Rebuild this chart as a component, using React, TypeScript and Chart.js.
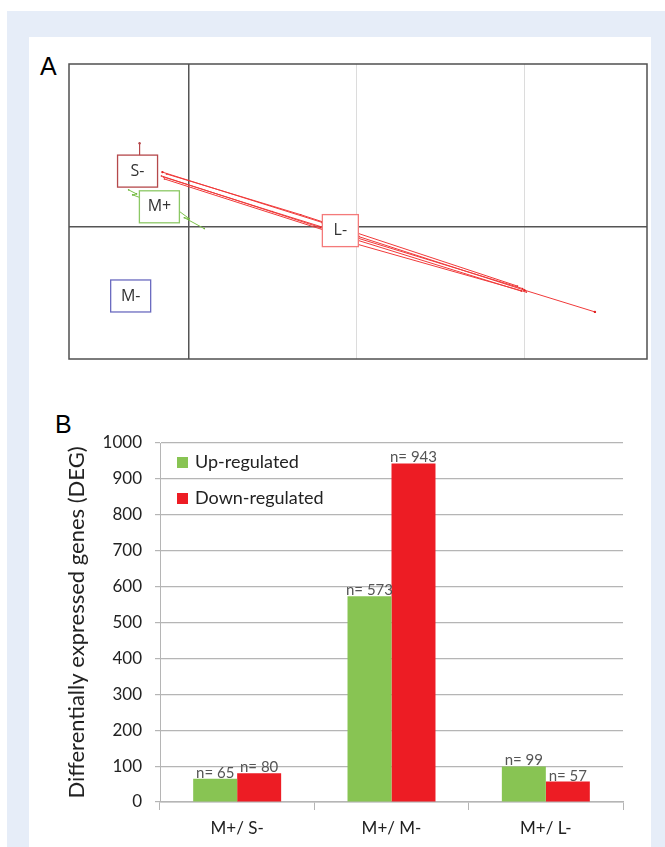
import React, { useEffect, useRef } from "react";
import { Chart, registerables } from "chart.js";

Chart.register(...registerables);

// ---------- Panel A data (ordination plot) ----------
const xGridValues = [0, 1, 2];
const yGridValues = [0];

const lTrace1: [number, number][] = [[-0.154, 0.325], [0.799, 0.024], [1.012, -0.059], [2.0, -0.379], [2.42, -0.509]];
const lTrace2: [number, number][] = [[-0.16, 0.302], [0.787, -0.006], [1.012, -0.083], [1.982, -0.385]];
const lTrace3: [number, number][] = [[-0.142, 0.284], [0.817, -0.024], [1.012, -0.107], [2.012, -0.391]];
const lTrace4: [number, number][] = [[-0.13, 0.314], [0.669, 0.071], [1.012, -0.041], [1.959, -0.355]];
const lTrace5: [number, number][] = [[-0.148, 0.296], [0.5, 0.09], [1.012, -0.07], [1.99, -0.37]];
const sTrace: [number, number][] = [[-0.29, 0.497], [-0.29, 0.414]];
const mPlusTraceLeft: [number, number][] = [[-0.355, 0.219], [-0.308, 0.195], [-0.331, 0.189], [-0.284, 0.172]];
const mPlusTraceRight: [number, number][] = [[-0.059, 0.095], [0.006, 0.047], [-0.024, 0.053], [0.095, -0.012]];

const groupNames = ["S-", "M+", "M-", "L-"];
const groupX = [-0.302, -0.172, -0.343, 0.905];
const groupY = [0.331, 0.118, -0.414, -0.024];

// ---------- Panel B data (bar chart) ----------
const categories = ["M+/ S-", "M+/ M-", "M+/ L-"];
const upRegulated = [65, 573, 99];
const downRegulated = [80, 943, 57];
const seriesNames = ["Up-regulated", "Down-regulated"];

const GREEN = "#88c453";
const RED = "#ed1c24";
const groupBorder: Record<string, string> = {
  "S-": "#b5484b",
  "M+": "#8cc865",
  "M-": "#6b6bc0",
  "L-": "#f47a7a",
};

const toPts = (arr: [number, number][]) => arr.map(([x, y]) => ({ x, y }));

export default function App() {
  const refA = useRef<HTMLCanvasElement | null>(null);
  const refB = useRef<HTMLCanvasElement | null>(null);

  useEffect(() => {
    Chart.defaults.font.family = "Lato";

    const redLine = (pts: [number, number][], r = 0.8) => ({
      data: toPts(pts),
      showLine: true,
      borderColor: "#f03a3a",
      borderWidth: 1,
      pointRadius: r,
      pointBackgroundColor: "#e02020",
      pointBorderWidth: 0,
    });
    const greenLine = (pts: [number, number][]) => ({
      data: toPts(pts),
      showLine: true,
      borderColor: "#7cc24a",
      borderWidth: 1,
      pointRadius: 0.8,
      pointBackgroundColor: "#6cb03a",
      pointBorderWidth: 0,
    });

    const boxesPlugin = {
      id: "boxes",
      afterDatasetsDraw(chart: any) {
        const { ctx, scales } = chart;
        ctx.save();
        groupNames.forEach((name, i) => {
          const cx = scales.x.getPixelForValue(groupX[i]);
          const cy = scales.y.getPixelForValue(groupY[i]);
          const w = name === "L-" ? 36 : 40;
          const h = 32;
          ctx.fillStyle = "#ffffff";
          ctx.fillRect(cx - w / 2, cy - h / 2, w, h);
          ctx.strokeStyle = groupBorder[name];
          ctx.lineWidth = 1.3;
          ctx.strokeRect(cx - w / 2, cy - h / 2, w, h);
          ctx.fillStyle = "#333333";
          ctx.font = "16px 'Open Sans'";
          ctx.textAlign = "center";
          ctx.textBaseline = "middle";
          ctx.fillText(name, cx, cy);
        });
        ctx.restore();
      },
      afterDraw(chart: any) {
        const { ctx, chartArea: a } = chart;
        ctx.save();
        ctx.strokeStyle = "#505050";
        ctx.lineWidth = 1.5;
        ctx.strokeRect(a.left, a.top, a.right - a.left, a.bottom - a.top);
        ctx.restore();
      },
    };

    const chartA = new Chart(refA.current as HTMLCanvasElement, {
      type: "scatter",
      data: {
        datasets: [
          redLine(lTrace1, 1.2),
          redLine(lTrace2),
          redLine(lTrace3),
          redLine(lTrace4),
          redLine(lTrace5),
          { ...redLine(sTrace, 1.2), borderColor: "#b5484b", pointBackgroundColor: "#b5484b" },
          greenLine(mPlusTraceLeft),
          greenLine(mPlusTraceRight),
        ] as any,
      },
      plugins: [boxesPlugin],
      options: {
        animation: false,
        responsive: false,
        devicePixelRatio: 1,
        layout: { padding: 2 },
        plugins: { legend: { display: false }, tooltip: { enabled: false } },
        scales: {
          x: {
            type: "linear",
            min: -0.71,
            max: 2.73,
            afterBuildTicks: (s: any) => {
              s.ticks = xGridValues.map((v) => ({ value: v }));
            },
            ticks: { display: false },
            border: { display: false },
            grid: {
              drawTicks: false,
              color: (c: any) => (c.tick && c.tick.value === 0 ? "#555555" : "#dcdcdc"),
              lineWidth: (c: any) => (c.tick && c.tick.value === 0 ? 1.5 : 1),
            },
          },
          y: {
            type: "linear",
            min: -0.79,
            max: 0.97,
            afterBuildTicks: (s: any) => {
              s.ticks = yGridValues.map((v) => ({ value: v }));
            },
            ticks: { display: false },
            border: { display: false },
            grid: {
              drawTicks: false,
              color: "#555555",
              lineWidth: 1.5,
            },
          },
        },
      } as any,
    });

    const labelsPlugin = {
      id: "nlabels",
      afterDatasetsDraw(chart: any) {
        const { ctx } = chart;
        ctx.save();
        ctx.font = "15px Lato";
        ctx.fillStyle = "#555555";
        ctx.textAlign = "center";
        ctx.textBaseline = "alphabetic";
        chart.data.datasets.forEach((ds: any, di: number) => {
          const meta = chart.getDatasetMeta(di);
          meta.data.forEach((bar: any, i: number) => {
            ctx.fillText(`n= ${ds.data[i]}`, bar.x, bar.y - 1);
          });
        });
        ctx.restore();
      },
      afterDraw(chart: any) {
        const { ctx, chartArea: a } = chart;
        ctx.save();
        ctx.font = "18px Lato";
        ctx.textBaseline = "middle";
        ctx.textAlign = "left";
        const colors = [GREEN, RED];
        seriesNames.forEach((name, i) => {
          const y = a.top + 19 + i * 36;
          ctx.fillStyle = colors[i];
          ctx.fillRect(a.left + 17, y - 5, 11, 11);
          ctx.fillStyle = "#222222";
          ctx.fillText(name, a.left + 35, y);
        });
        ctx.restore();
      },
    };

    const chartB = new Chart(refB.current as HTMLCanvasElement, {
      type: "bar",
      data: {
        labels: categories,
        datasets: [
          { label: seriesNames[0], data: upRegulated, backgroundColor: GREEN, barPercentage: 1, categoryPercentage: 0.57 },
          { label: seriesNames[1], data: downRegulated, backgroundColor: RED, barPercentage: 1, categoryPercentage: 0.57 },
        ],
      },
      plugins: [labelsPlugin],
      options: {
        animation: false,
        responsive: false,
        devicePixelRatio: 1,
        layout: { padding: { top: 43, right: 17, left: 0, bottom: 0 } },
        plugins: { legend: { display: false }, tooltip: { enabled: false } },
        scales: {
          x: {
            afterFit: (s: any) => {
              s.height = 45;
            },
            grid: {
              offset: true,
              drawOnChartArea: false,
              drawTicks: true,
              tickLength: 8,
              color: "#b5b5b5",
            },
            border: { display: true, color: "#b5b5b5", width: 1.5 },
            ticks: { color: "#222222", font: { size: 17 }, padding: 8 },
          },
          y: {
            min: 0,
            max: 1000,
            afterFit: (s: any) => {
              s.width = 120;
            },
            ticks: {
              stepSize: 100,
              color: "#222222",
              font: { size: 17 },
              padding: 13,
              callback: (v: any) => String(v),
            },
            grid: { color: "#b5b5b5", tickLength: 5, lineWidth: 1.2 },
            border: { display: true, color: "#b5b5b5" },
            title: {
              display: true,
              text: "Differentially expressed genes (DEG)",
              color: "#222222",
              font: { size: 22 },
              padding: { top: 24, bottom: 0 },
            },
          },
        },
      } as any,
    });

    return () => {
      chartA.destroy();
      chartB.destroy();
    };
  }, []);

  return (
    <div
      style={{
        position: "absolute",
        left: 0,
        top: 0,
        width: 665,
        height: 847,
        background: "#ffffff",
        overflow: "hidden",
      }}
    >
      <div style={{ position: "absolute", left: 7, top: 11, right: 0, bottom: 0, background: "#e6edf8" }} />
      <div style={{ position: "absolute", left: 29, top: 37, width: 622, bottom: 0, background: "#ffffff" }} />
      <div
        style={{
          position: "absolute",
          left: 40,
          top: 54,
          fontFamily: "'Liberation Sans', Arial, sans-serif",
          fontSize: 25,
          lineHeight: "25px",
          color: "#000",
        }}
      >
        A
      </div>
      <div
        style={{
          position: "absolute",
          left: 55,
          top: 412,
          fontFamily: "'Liberation Sans', Arial, sans-serif",
          fontSize: 25,
          lineHeight: "25px",
          color: "#000",
        }}
      >
        B
      </div>
      <canvas ref={refA} width={586} height={303} style={{ position: "absolute", left: 65, top: 60, width: 586, height: 303 }} />
      <canvas ref={refB} width={600} height={447} style={{ position: "absolute", left: 40, top: 400, width: 600, height: 447 }} />
    </div>
  );
}
